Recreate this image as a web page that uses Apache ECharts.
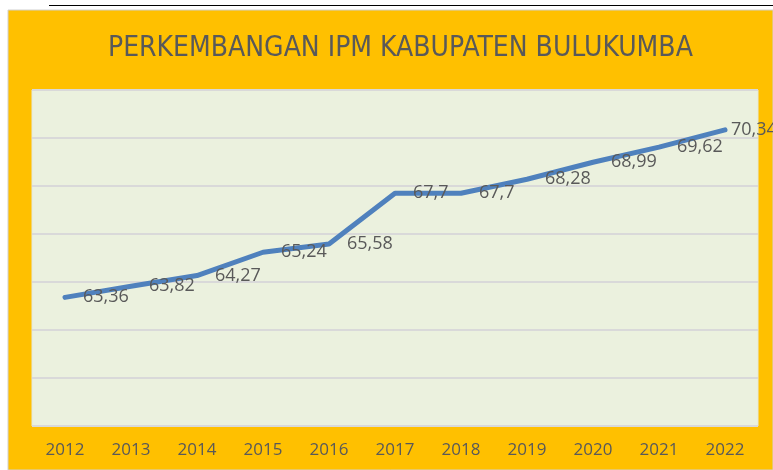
<!DOCTYPE html>
<html>
<head>
<meta charset="utf-8">
<script src="https://cdn.jsdelivr.net/npm/echarts@6/dist/echarts.min.js"></script>
<style>
  html, body { margin: 0; padding: 0; background: #fff; }
  #chart { width: 773px; height: 470px; }
</style>
</head>
<body>
<div id="chart"></div>
<script>
const GOLD = "#FFC000";
const PLOT_BG = "#EBF1DE";
const GRID = "#D9D9D9";
const TEXT = "#595959";
const LINE = "#4F81BD";

const years = ["2012", "2013", "2014", "2015", "2016", "2017", "2018", "2019", "2020", "2021", "2022"];
const ipm = [63.36, 63.82, 64.27, 65.24, 65.58, 67.7, 67.7, 68.28, 68.99, 69.62, 70.34];
const yMin = 58;
const yMax = 72;
const yStep = 2;

const chart = echarts.init(document.getElementById("chart"), null, { renderer: "canvas" });

// last label sits tight to its point, the rest are pushed further right
const points = ipm.map((v, i) =>
  i === ipm.length - 1 ? { value: v, label: { distance: 5 } } : v
);

chart.setOption({
  animation: false,
  backgroundColor: "#fff",
  graphic: [
    // gold panel behind everything
    { type: "rect", z: -10, shape: { x: 8, y: 10, width: 765, height: 460 },
      style: { fill: GOLD, stroke: "#D0D0D0", lineWidth: 1 } },
    { type: "line", z: -10, shape: { x1: 49, y1: 5.5, x2: 773, y2: 5.5 },
      style: { stroke: "#000", lineWidth: 1 } },
  ],
  title: {
    text: "PERKEMBANGAN IPM KABUPATEN BULUKUMBA",
    left: 103,
    top: 30,
    textStyle: {
      color: TEXT,
      fontFamily: "'DejaVu Sans Condensed', 'Open Sans'",
      fontSize: 28,
      fontWeight: "normal",
    },
  },
  grid: {
    left: 32, right: 15, top: 90, bottom: 44,
    show: true, backgroundColor: PLOT_BG, borderColor: "#E4E8DA", borderWidth: 1,
  },
  xAxis: {
    type: "category",
    data: years,
    boundaryGap: true,
    axisLine: { show: false },
    axisTick: { show: false },
    axisLabel: { color: TEXT, fontSize: 17, fontFamily: "Open Sans", margin: 16 },
    splitLine: { show: false },
  },
  yAxis: {
    type: "value",
    min: yMin,
    max: yMax,
    interval: yStep,
    axisLine: { show: false },
    axisTick: { show: false },
    axisLabel: { show: false },
    splitLine: { lineStyle: { color: GRID, width: 2 } },
  },
  series: [
    {
      type: "line",
      data: points,
      symbol: "circle",
      symbolSize: 2,
      itemStyle: { color: "rgba(0,0,0,0)", borderWidth: 0 },
      smooth: false,
      lineStyle: { color: LINE, width: 5, cap: "round", join: "round" },
      label: {
        show: true,
        position: "right",
        distance: 17,
        color: TEXT,
        fontSize: 18,
        fontFamily: "Open Sans",
        formatter: (p) => String(p.value).replace(".", ","),
      },
    },
  ],
});
</script>
</body>
</html>
